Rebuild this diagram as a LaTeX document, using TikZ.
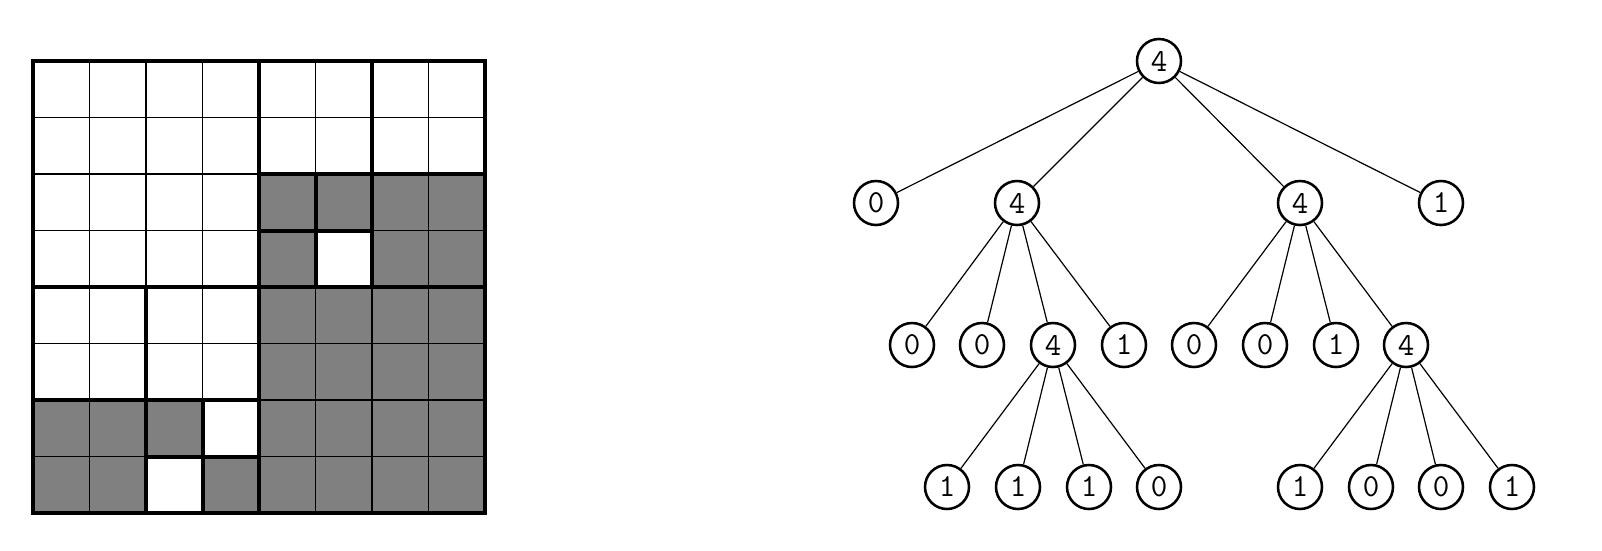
\documentclass[tikz,border=0pt]{standalone}
\begin{document}
\begin{tikzpicture}[x=0.75pt,y=-0.75pt,
  tn/.style={circle,draw,line width=1.9pt,minimum size=33pt,inner sep=0pt,font=\ttfamily\fontsize{24}{24}\selectfont},
  edge/.style={line width=0.9pt},
  thin/.style={line width=1.1pt},
  thick/.style={line width=3pt,line cap=rect}]
\useasboundingbox (0,0) rectangle (1602,550);
\begin{scope}[shift={(33,61)},x=42.375pt,y=-42.375pt]
  \fill[gray] (4,2) rectangle (8,8);
  \fill[white] (5,3) rectangle (6,4);
  \fill[gray] (0,6) rectangle (3,7);
  \fill[gray] (0,7) rectangle (2,8);
  \fill[gray] (3,7) rectangle (4,8);
  \foreach \i in {1,...,7} \draw[thin] (\i,0) -- (\i,8) (0,\i) -- (8,\i);
  \draw[thick] (0,0) rectangle (8,8);
  \draw[thick] (4,0) -- (4,8) (0,4) -- (8,4);
  \draw[thick] (6,0) -- (6,4) (4,2) -- (8,2);
  \draw[thick] (5,2) -- (5,4) (4,3) -- (6,3);
  \draw[thick] (2,4) -- (2,8) (0,6) -- (4,6);
  \draw[thick] (3,6) -- (3,8) (2,7) -- (4,7);
\end{scope}
\node[tn] (r) at (1159,61) {4};
\node[tn] (a) at (876,203) {0};
\node[tn] (b) at (1017,203) {4};
\node[tn] (c) at (1300,203) {4};
\node[tn] (d) at (1441,203) {1};
\node[tn] (b1) at (912,345) {0};
\node[tn] (b2) at (982,345) {0};
\node[tn] (b3) at (1053,345) {4};
\node[tn] (b4) at (1124,345) {1};
\node[tn] (c1) at (1194,345) {0};
\node[tn] (c2) at (1265,345) {0};
\node[tn] (c3) at (1336,345) {1};
\node[tn] (c4) at (1406,345) {4};
\node[tn] (e1) at (947,487) {1};
\node[tn] (e2) at (1018,487) {1};
\node[tn] (e3) at (1089,487) {1};
\node[tn] (e4) at (1159,487) {0};
\node[tn] (f1) at (1300,487) {1};
\node[tn] (f2) at (1371,487) {0};
\node[tn] (f3) at (1441,487) {0};
\node[tn] (f4) at (1512,487) {1};
\foreach \p/\q in {r/a,r/b,r/c,r/d,b/b1,b/b2,b/b3,b/b4,c/c1,c/c2,c/c3,c/c4,b3/e1,b3/e2,b3/e3,b3/e4,c4/f1,c4/f2,c4/f3,c4/f4}
  \draw[edge] (\p) -- (\q);
\end{tikzpicture}
\end{document}
